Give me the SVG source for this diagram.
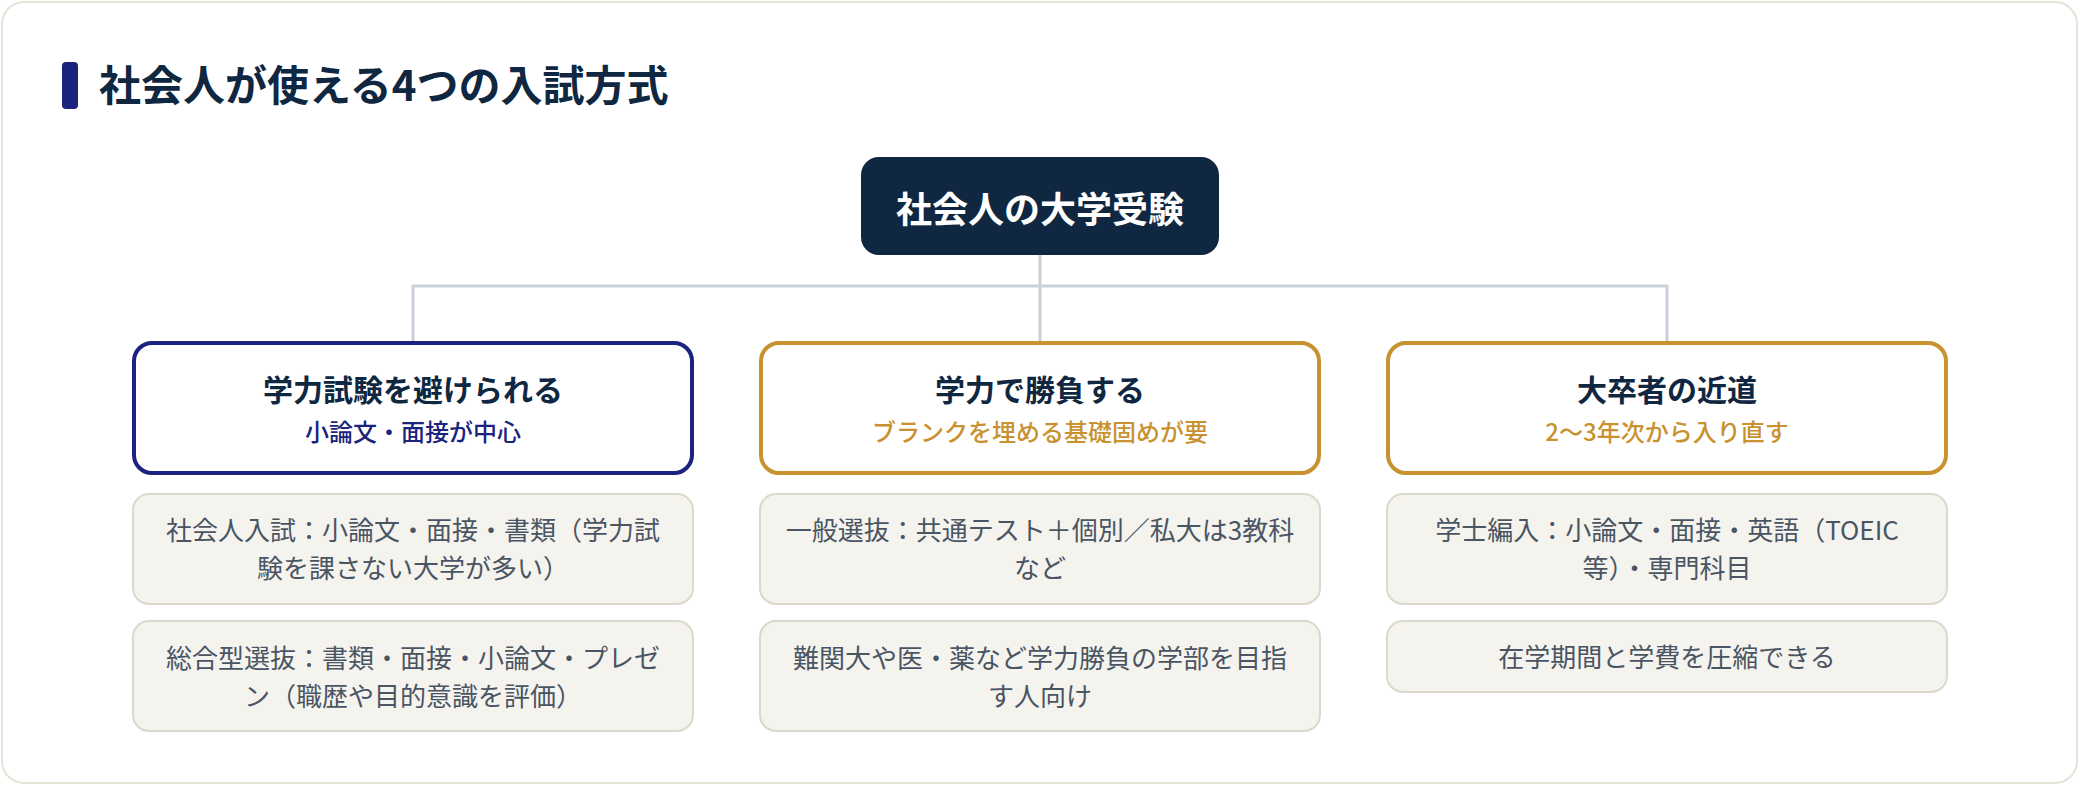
<svg xmlns="http://www.w3.org/2000/svg" width="2080" height="786" viewBox="0 0 2080 786">
<style>
text{font-family:"Noto Sans CJK JP","Noto Sans",sans-serif;text-anchor:middle}
.h1{font-size:42px;font-weight:700;fill:#0f2740;text-anchor:start}
.root{font-size:36px;font-weight:700;fill:#ffffff}
.ct{font-size:30px;font-weight:700;fill:#0f2740}
.sub{font-size:24px;font-weight:500}
.dt{font-size:26px;fill:#4a5563}
.card{fill:#ffffff;stroke-width:4}
.det{fill:#f5f3ee;stroke:#dcd8ca;stroke-width:2}
.conn{stroke:#c9d0da;stroke-width:3;fill:none}
</style>
<rect x="0" y="0" width="2080" height="786" fill="#ffffff"/>
<rect x="2" y="2" width="2075" height="781" rx="22" fill="#ffffff" stroke="#e6e3d6" stroke-width="2"/>
<g id="title">
<rect x="62" y="62" width="16" height="47" rx="4" fill="#1a237e"/>
<text class="h1" x="99" y="101">社会人が使える4つの入試方式</text>
</g>
<g id="connectors">
<path class="conn" d="M1040 255 V341 M413 341 V286 H1667 V341"/>
</g>
<g id="root">
<rect x="861" y="157" width="358" height="98" rx="18" fill="#0f2740"/>
<text class="root" x="1040" y="223">社会人の大学受験</text>
</g>
<g id="cat-left">
<rect class="card" x="134" y="343" width="558" height="130" rx="18" stroke="#1a237e"/>
<text class="ct" x="413" y="401">学力試験を避けられる</text>
<text class="sub" x="413" y="441" fill="#1a237e">小論文・面接が中心</text>
</g>
<g id="cat-mid">
<rect class="card" x="761" y="343" width="558" height="130" rx="18" stroke="#c8922f"/>
<text class="ct" x="1040" y="401">学力で勝負する</text>
<text class="sub" x="1040" y="441" fill="#c8922f">ブランクを埋める基礎固めが要</text>
</g>
<g id="cat-right">
<rect class="card" x="1388" y="343" width="558" height="130" rx="18" stroke="#c8922f"/>
<text class="ct" x="1667" y="401">大卒者の近道</text>
<text class="sub" x="1667" y="441" fill="#c8922f">2〜3年次から入り直す</text>
</g>
<g id="left-1">
<rect class="det" x="133" y="494" width="560" height="110" rx="16"/>
<text class="dt" x="413" y="540">社会人入試：小論文・面接・書類（学力試</text>
<text class="dt" x="413" y="578">験を課さない大学が多い）</text>
</g>
<g id="left-2">
<rect class="det" x="133" y="621" width="560" height="110" rx="16"/>
<text class="dt" x="413" y="668">総合型選抜：書類・面接・小論文・プレゼ</text>
<text class="dt" x="413" y="706">ン（職歴や目的意識を評価）</text>
</g>
<g id="mid-1">
<rect class="det" x="760" y="494" width="560" height="110" rx="16"/>
<text class="dt" x="1040" y="540">一般選抜：共通テスト＋個別／私大は3教科</text>
<text class="dt" x="1040" y="578">など</text>
</g>
<g id="mid-2">
<rect class="det" x="760" y="621" width="560" height="110" rx="16"/>
<text class="dt" x="1040" y="668">難関大や医・薬など学力勝負の学部を目指</text>
<text class="dt" x="1040" y="706">す人向け</text>
</g>
<g id="right-1">
<rect class="det" x="1387" y="494" width="560" height="110" rx="16"/>
<text class="dt" x="1667" y="540">学士編入：小論文・面接・英語（TOEIC</text>
<text class="dt" x="1667" y="578">等）・専門科目</text>
</g>
<g id="right-2">
<rect class="det" x="1387" y="621" width="560" height="71" rx="16"/>
<text class="dt" x="1667" y="667">在学期間と学費を圧縮できる</text>
</g>
</svg>
